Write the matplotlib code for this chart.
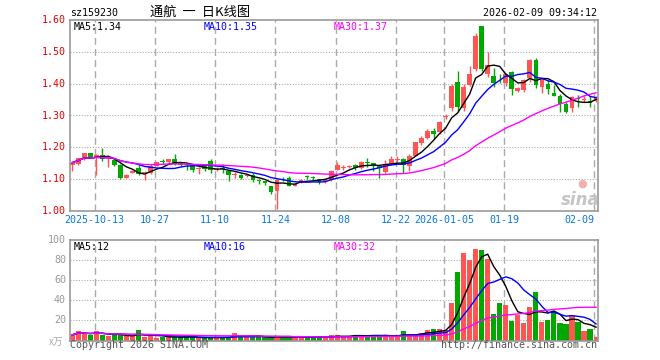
import numpy as np
import pandas as pd
import matplotlib
matplotlib.use("Agg")
import matplotlib.pyplot as plt
from matplotlib.transforms import blended_transform_factory

# daily K-line data, 159230, 2025-09-29 .. 2026-02-09 (88 trading days)
open_ = [1.145, 1.148, 1.165, 1.182, 1.168, 1.177, 1.162, 1.160, 1.143, 1.105,
         1.120, 1.135, 1.119, 1.118, 1.141, 1.154, 1.153, 1.163, 1.153, 1.148,
         1.143, 1.132, 1.144, 1.158, 1.130, 1.135, 1.127, 1.113, 1.114, 1.111,
         1.113, 1.096, 1.094, 1.077, 1.064, 1.101, 1.105, 1.080, 1.090, 1.108,
         1.106, 1.100, 1.092, 1.098, 1.130, 1.135, 1.137, 1.145, 1.135, 1.152,
         1.151, 1.142, 1.122, 1.148, 1.161, 1.164, 1.141, 1.174, 1.214, 1.230,
         1.251, 1.247, 1.296, 1.325, 1.405, 1.322, 1.395, 1.445, 1.580, 1.430,
         1.425, 1.412, 1.402, 1.438, 1.376, 1.380, 1.418, 1.473, 1.390, 1.400,
         1.372, 1.360, 1.336, 1.325, 1.353, 1.350, 1.346, 1.345]
high = [1.155, 1.168, 1.183, 1.182, 1.180, 1.198, 1.175, 1.165, 1.148, 1.115,
        1.130, 1.145, 1.125, 1.147, 1.155, 1.163, 1.164, 1.179, 1.155, 1.148,
        1.145, 1.137, 1.145, 1.163, 1.138, 1.147, 1.130, 1.121, 1.117, 1.115,
        1.118, 1.100, 1.095, 1.080, 1.100, 1.107, 1.111, 1.087, 1.100, 1.114,
        1.110, 1.101, 1.100, 1.130, 1.155, 1.143, 1.143, 1.148, 1.158, 1.165,
        1.152, 1.145, 1.160, 1.173, 1.173, 1.165, 1.178, 1.218, 1.235, 1.258,
        1.262, 1.283, 1.306, 1.398, 1.440, 1.398, 1.457, 1.560, 1.580, 1.500,
        1.449, 1.430, 1.435, 1.440, 1.390, 1.416, 1.476, 1.481, 1.419, 1.410,
        1.395, 1.368, 1.341, 1.362, 1.364, 1.360, 1.362, 1.360]
low = [1.125, 1.145, 1.160, 1.165, 1.112, 1.158, 1.138, 1.140, 1.100, 1.103,
       1.118, 1.113, 1.096, 1.115, 1.140, 1.148, 1.152, 1.145, 1.140, 1.128,
       1.124, 1.117, 1.126, 1.118, 1.125, 1.120, 1.095, 1.104, 1.101, 1.107,
       1.090, 1.085, 1.082, 1.053, 1.007, 1.093, 1.077, 1.078, 1.088, 1.100,
       1.097, 1.085, 1.088, 1.095, 1.128, 1.130, 1.134, 1.130, 1.132, 1.138,
       1.127, 1.103, 1.118, 1.143, 1.153, 1.120, 1.127, 1.172, 1.208, 1.225,
       1.226, 1.242, 1.290, 1.315, 1.312, 1.314, 1.392, 1.440, 1.440, 1.422,
       1.388, 1.401, 1.392, 1.363, 1.374, 1.374, 1.404, 1.387, 1.370, 1.367,
       1.360, 1.310, 1.307, 1.311, 1.328, 1.343, 1.326, 1.343]
close = [1.152, 1.165, 1.182, 1.167, 1.177, 1.162, 1.171, 1.143, 1.104, 1.113,
         1.125, 1.116, 1.122, 1.142, 1.153, 1.153, 1.163, 1.148, 1.145, 1.145,
         1.130, 1.134, 1.132, 1.129, 1.133, 1.132, 1.114, 1.115, 1.104, 1.113,
         1.096, 1.094, 1.089, 1.061, 1.097, 1.099, 1.080, 1.085, 1.097, 1.106,
         1.105, 1.091, 1.098, 1.127, 1.143, 1.137, 1.139, 1.134, 1.155, 1.150,
         1.143, 1.134, 1.148, 1.164, 1.163, 1.143, 1.174, 1.216, 1.228, 1.250,
         1.242, 1.280, 1.298, 1.392, 1.328, 1.388, 1.430, 1.551, 1.447, 1.460,
         1.403, 1.410, 1.430, 1.382, 1.386, 1.410, 1.474, 1.395, 1.418, 1.382,
         1.362, 1.336, 1.310, 1.357, 1.351, 1.352, 1.338, 1.355]
volume = [5.7, 9, 7.3, 5.7, 9, 5.7, 4, 5.7, 5.7, 4,
          4, 10.7, 3.3, 5, 2.3, 3.3, 4, 3.3, 3.3, 3.3,
          3.3, 2.3, 2.3, 3.3, 3.3, 3.3, 3.3, 7.3, 5.7, 3.3,
          3.3, 3.3, 3.3, 3.3, 4, 3.3, 3.3, 3.3, 4, 2.3,
          4, 4, 2.3, 5.7, 5, 4, 4, 5.7, 5.7, 4,
          5.7, 4, 5.7, 4, 4, 9, 5.7, 5.7, 7.7, 10,
          11, 11, 10, 37.3, 68.3, 87.3, 80, 91, 90, 81,
          26, 37.3, 35, 19, 25.7, 17.3, 33, 48, 18, 20,
          27.7, 17.3, 16, 25, 18, 9, 11, 3]

tick_idx = [4, 14, 24, 34, 44, 54, 62, 72, 87]
tick_labels = ["2025-10-13", "10-27", "11-10", "11-24", "12-08",
               "12-22", "2026-01-05", "01-19", "02-09"]
price_ticks = [1.00, 1.10, 1.20, 1.30, 1.40, 1.50, 1.60]
vol_ticks = [20, 40, 60, 80, 100]

RED = "#ff5555"
GREEN = "#00a800"
GRID = "#aaaaaa"
MONO = "DejaVu Sans Mono"
CJK = ["Noto Sans CJK SC", "DejaVu Sans"]

W, H = 660, 360
o = np.array(open_)
h = np.array(high)
l = np.array(low)
c = np.array(close)
v = np.array(volume)
x = np.arange(len(c))
colors = np.where(c >= o, RED, GREEN)

ma_c = {n: pd.Series(c).rolling(n, min_periods=1).mean() for n in (5, 10, 30)}
ma_v = {n: pd.Series(v).rolling(n, min_periods=1).mean() for n in (5, 10, 30)}
ma_col = {5: "black", 10: "#0000ff", 30: "#ff00ff"}

fig = plt.figure(figsize=(6.6, 3.6), dpi=100)
ax_p = fig.add_axes([70 / W, 1 - 211 / H, 528 / W, 191 / H])
ax_v = fig.add_axes([70 / W, 1 - 340.5 / H, 528 / W, 100.5 / H])

xlim = (-0.38, 87.32)
for ax in (ax_p, ax_v):
    ax.set_xlim(*xlim)
    ax.set_xticks([])
    ax.set_yticks([])
    for s in ax.spines.values():
        s.set_color("#999999")
        s.set_linewidth(1.2)
    for t in tick_idx:
        ax.axvline(t - 0.27, color=GRID, lw=1, ls=(0, (5, 3)), zorder=0)

# price panel
ax_p.set_ylim(1.0, 1.6)
for p in price_ticks[1:-1]:
    ax_p.axhline(p, color=GRID, lw=0.8, ls=(0, (1, 1.5)), zorder=0)
ax_p.vlines(x, l, h, colors=colors, lw=1, zorder=2)
ax_p.bar(x, np.maximum(np.abs(c - o), 0.003), bottom=np.minimum(o, c),
         width=0.78, color=colors, lw=0, zorder=2)
for n in (5, 10, 30):
    ax_p.plot(x, ma_c[n], color=ma_col[n], lw=1, zorder=3)

# volume panel
ax_v.set_ylim(0, 100)
for q in vol_ticks[:-1]:
    ax_v.axhline(q, color=GRID, lw=0.8, ls=(0, (1, 1.5)), zorder=0)
ax_v.bar(x, v, width=0.85, color=colors, lw=0, zorder=2)
for n in (5, 10, 30):
    ax_v.plot(x, ma_v[n], color=ma_col[n], lw=1, zorder=3)


def ftxt(px, py, s, **kw):
    fig.text(px / W, 1 - py / H, s, va="center", **kw)


for p in price_ticks:
    ftxt(66, 20 + (1.6 - p) * 318.5, "%.2f" % p, ha="right",
         color="#ee0000", family=MONO, fontsize=7.2)
for q in vol_ticks:
    ftxt(66, 340 - q, str(q), ha="right", color="#999999",
         family=MONO, fontsize=7.2)

tr = blended_transform_factory(ax_p.transData, fig.transFigure)
for t, lab in zip(tick_idx, tick_labels):
    ha = "right" if t == tick_idx[-1] else "center"
    ax_p.text(t - 0.27, 1 - 220 / H, lab, transform=tr, ha=ha, va="center",
              color="#0a78d8", family=MONO, fontsize=7.2)

# header
ftxt(70, 13, "sz159230", color="black", family=MONO, fontsize=7.2)
ftxt(200, 12, "通航  一  日K线图", ha="center", color="black",
     family=CJK, fontsize=9.5)
ftxt(597, 13, "2026-02-09 09:34:12", ha="right", color="black",
     family=MONO, fontsize=7.2)

# MA legends
for px, s, col in [(74, "MA5:1.34", "black"), (204, "MA10:1.35", "#0000ff"),
                   (334, "MA30:1.37", "#ff00ff")]:
    ftxt(px, 26.5, s, color=col, family=MONO, fontsize=7.2)
for px, s, col in [(74, "MA5:12", "black"), (204, "MA10:16", "#0000ff"),
                   (334, "MA30:32", "#ff00ff")]:
    ftxt(px, 247, s, color=col, family=MONO, fontsize=7.2)

# footer
ftxt(49, 342, "x万", color="#aaaaaa", family=CJK, fontsize=7)
ftxt(70, 345.5, "Copyright 2026 SINA.COM", color="#555555",
     family=MONO, fontsize=7.2)
ftxt(597, 345.5, "http://finance.sina.com.cn", ha="right", color="#555555",
     family=MONO, fontsize=7.2)

# sina watermark
ftxt(582, 184, "●", ha="center", color="#f2b0b0", fontsize=8)
ftxt(580, 200, "sina", ha="center", color="#c4c4c4", fontsize=12,
     fontweight="bold", style="italic", family="DejaVu Sans")

fig.savefig("out.png", dpi=100)
